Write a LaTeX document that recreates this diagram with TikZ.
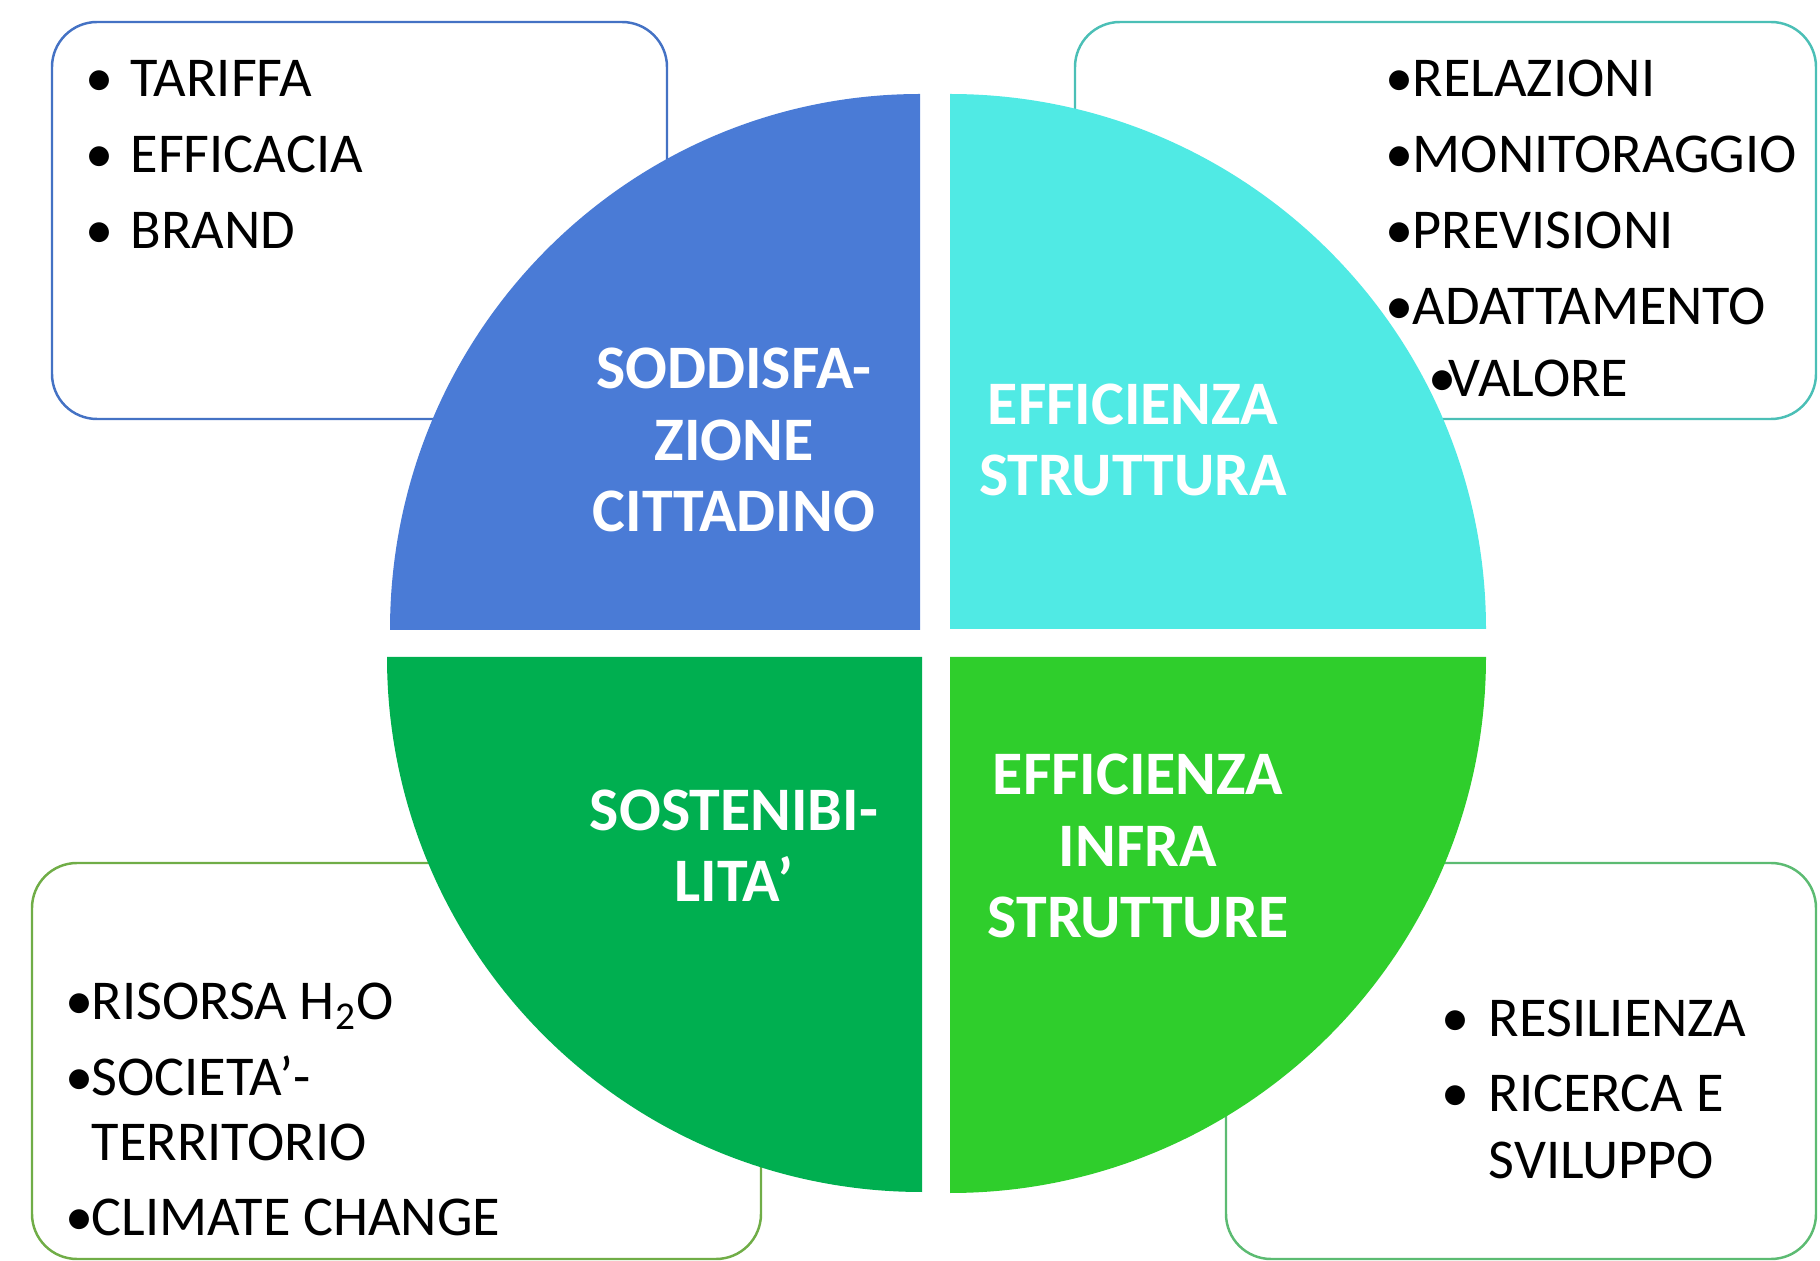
\documentclass[tikz,border=0pt]{standalone}
\usepackage{fontspec}
\setmainfont{Carlito}
\definecolor{qblue}{HTML}{4A7BD6}
\definecolor{qcyan}{HTML}{50EAE4}
\definecolor{qdgreen}{HTML}{00AF50}
\definecolor{qlgreen}{HTML}{2FCE2C}
\definecolor{bblue}{HTML}{4472C4}
\definecolor{bteal}{HTML}{4BBFB6}
\definecolor{bgreen}{HTML}{70AD47}
\definecolor{bmint}{HTML}{5CBB72}
\tikzset{
  listbox/.style={line width=0.7pt, fill=white, rounded corners=0.45cm},
  quadlabel/.style={align=center, text=white, inner sep=0pt,
    font=\bfseries\fontsize{17.6}{20.3}\selectfont},
  item/.style={anchor=base west, inner sep=0pt, font=\fontsize{16}{19}\selectfont},
}

\begin{document}
\begin{tikzpicture}[x=0.01cm, y=-0.01cm]
    \useasboundingbox (0,0) rectangle (1820,1261);
    % boxes behind the circle
    \draw[listbox, draw=bblue] (52,22) rectangle (667,419);
    \draw[listbox, draw=bteal] (1075,22) rectangle (1816,419);
    \draw[listbox, draw=bgreen] (32,863) rectangle (761,1259);
    \draw[listbox, draw=bmint] (1226,863) rectangle (1816,1259);
    % four quarters
    \fill[qblue] (920,630) -- (390,630) arc[start angle=180, end angle=270, x radius=530, y radius=536] -- cycle;
    \fill[qcyan] (950,629) -- (950,94) arc[start angle=270, end angle=360, x radius=536, y radius=535] -- cycle;
    \fill[qdgreen] (922,657) -- (922,1192) arc[start angle=90, end angle=180, x radius=535, y radius=535] -- cycle;
    \fill[qlgreen] (950,657) -- (1486,657) arc[start angle=0, end angle=90, x radius=536, y radius=536] -- cycle;
    % labels in the quarters
    \node[quadlabel] (soddisf) at (734,440) {SODDISFA-\\ZIONE\\CITTADINO};
    \node[quadlabel] (effstr) at (1133,440) {EFFICIENZA\\STRUTTURA};
    \node[quadlabel] (sost) at (734,846) {SOSTENIBI-\\LITA’};
    \node[quadlabel] (effinfra) at (1138,846) {EFFICIENZA\\INFRA\\STRUTTURE};
    % top left list
    \foreach \t [count=\i] in {TARIFFA, EFFICACIA, BRAND} {
        \node[item] (tlb\i) at (85,21+76*\i) {\textbullet};
        \node[item] (tl\i) at (130,21+76*\i) {\t};
    }
    % top right list
    \foreach \t [count=\i] in {RELAZIONI, MONITORAGGIO, PREVISIONI, ADATTAMENTO} {
        \node[item] (trb\i) at (1385,21+76*\i) {\textbullet};
        \node[item] (tr\i) at (1412,21+76*\i) {\t};
    }
    \node[item] (trb5) at (1428,397) {\textbullet};
    \node[item] (tr5) at (1448,397) {VALORE};
    % bottom left list
    \node[item] (blb1) at (65,1020) {\textbullet};
    \node[item] (bl1) at (91,1020) {RISORSA H\textsubscript{2}O};
    \node[item] (blb2) at (65,1095) {\textbullet};
    \node[item] (bl2) at (91,1095) {SOCIETA’-};
    \node[item] (bl2b) at (91,1160) {TERRITORIO};
    \node[item] (blb3) at (65,1235) {\textbullet};
    \node[item] (bl3) at (91,1235) {CLIMATE CHANGE};
    % bottom right list
    \node[item] (brb1) at (1441,1037) {\textbullet};
    \node[item] (br1) at (1488,1037) {RESILIENZA};
    \node[item] (brb2) at (1441,1112) {\textbullet};
    \node[item] (br2) at (1488,1112) {RICERCA E};
    \node[item] (br2b) at (1488,1178) {SVILUPPO};
\end{tikzpicture}
\end{document}
